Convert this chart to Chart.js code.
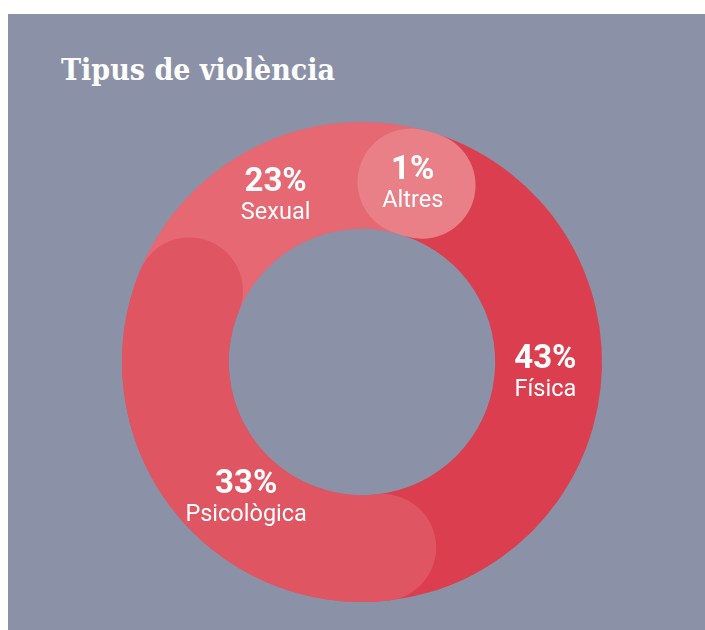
<!DOCTYPE html>
<html>
<head>
<meta charset="utf-8">
<script src="https://cdn.jsdelivr.net/npm/chart.js@4"></script>
<style>
  html, body { margin: 0; padding: 0; background: #fff; }
  #panel {
    position: absolute; left: 8px; top: 14px; width: 697px; height: 616px;
    background: #8b91a6;
  }
  #title {
    position: absolute; left: 61px; top: 55px; margin: 0;
    font-family: "DejaVu Serif Condensed", "DejaVu Serif", serif;
    font-weight: bold; font-size: 30px; line-height: 30px; color: #fff; white-space: nowrap;
  }
  #wrap { position: absolute; left: 0; top: 0; width: 705px; height: 630px; }
</style>
</head>
<body>
<div id="panel"></div>
<div id="title">Tipus de violència</div>
<div id="wrap"><canvas id="violencia"></canvas></div>
<script>
// dades, en ordre horari a partir de la vora Sexual/Psicològica
var categories = ['Sexual', 'Altres', 'Física', 'Psicològica']
var percents = [23, 1, 43, 33]
var colors = ['#e56873', '#e98088', '#db3e4e', '#df5562']

// segments que es dibuixen amb extrems arrodonits per sobre dels altres
var roundedOnTop = [3, 1]

const capsAndLabels = {
  id: 'capsAndLabels',
  afterDatasetsDraw(chart, args, opts) {
    const ctx = chart.ctx
    const arcs = chart.getDatasetMeta(0).data

    ctx.save()
    roundedOnTop.forEach(i => {
      const a = arcs[i].getProps(['x', 'y', 'startAngle', 'endAngle', 'innerRadius', 'outerRadius'], true)
      const mid = (a.innerRadius + a.outerRadius) / 2
      ctx.beginPath()
      ctx.arc(a.x, a.y, mid, a.startAngle, a.endAngle)
      ctx.lineWidth = a.outerRadius - a.innerRadius
      ctx.lineCap = 'round'
      ctx.strokeStyle = colors[i]
      ctx.stroke()
    })

    ctx.fillStyle = '#fff'
    ctx.textAlign = 'center'
    ctx.textBaseline = 'alphabetic'
    arcs.forEach((arc, i) => {
      const a = arc.getProps(['x', 'y', 'startAngle', 'endAngle', 'innerRadius', 'outerRadius'], true)
      const shift = opts.shift[i] || {angle: 0, radius: 0}
      const ang = (a.startAngle + a.endAngle) / 2 + shift.angle * Math.PI / 180
      const r = (a.innerRadius + a.outerRadius) / 2 + shift.radius
      const cx = a.x + Math.cos(ang) * r
      const cy = a.y + Math.sin(ang) * r
      ctx.font = 'bold 33px Roboto'
      ctx.fillText(percents[i] + '%', cx, cy - 2.5)
      ctx.font = '23.5px Roboto'
      ctx.fillText(categories[i], cx, cy + 25.5)
    })
    ctx.restore()
  }
}

let el = document.getElementById('violencia').getContext('2d')

let donut = new Chart(el, {
  type: 'doughnut',
  data: {
    labels: categories,
    datasets: [{
      data: percents,
      backgroundColor: colors,
      borderWidth: 0,
      hoverOffset: 0
    }]
  },
  options: {
    responsive: true,
    maintainAspectRatio: false,
    animation: false,
    rotation: -67.6,
    cutout: '55.5%',
    layout: { padding: { left: 122, right: 103, top: 122, bottom: 28 } },
    events: [],
    plugins: {
      legend: { display: false },
      tooltip: { enabled: false },
      capsAndLabels: {
        shift: {
          0: { angle: -0.9, radius: 3 },
          1: { angle: -1.3, radius: 1 },
          2: { angle: -3.4, radius: -3 },
          3: { angle: -12, radius: -10 }
        }
      }
    }
  },
  plugins: [capsAndLabels]
})
</script>
</body>
</html>
